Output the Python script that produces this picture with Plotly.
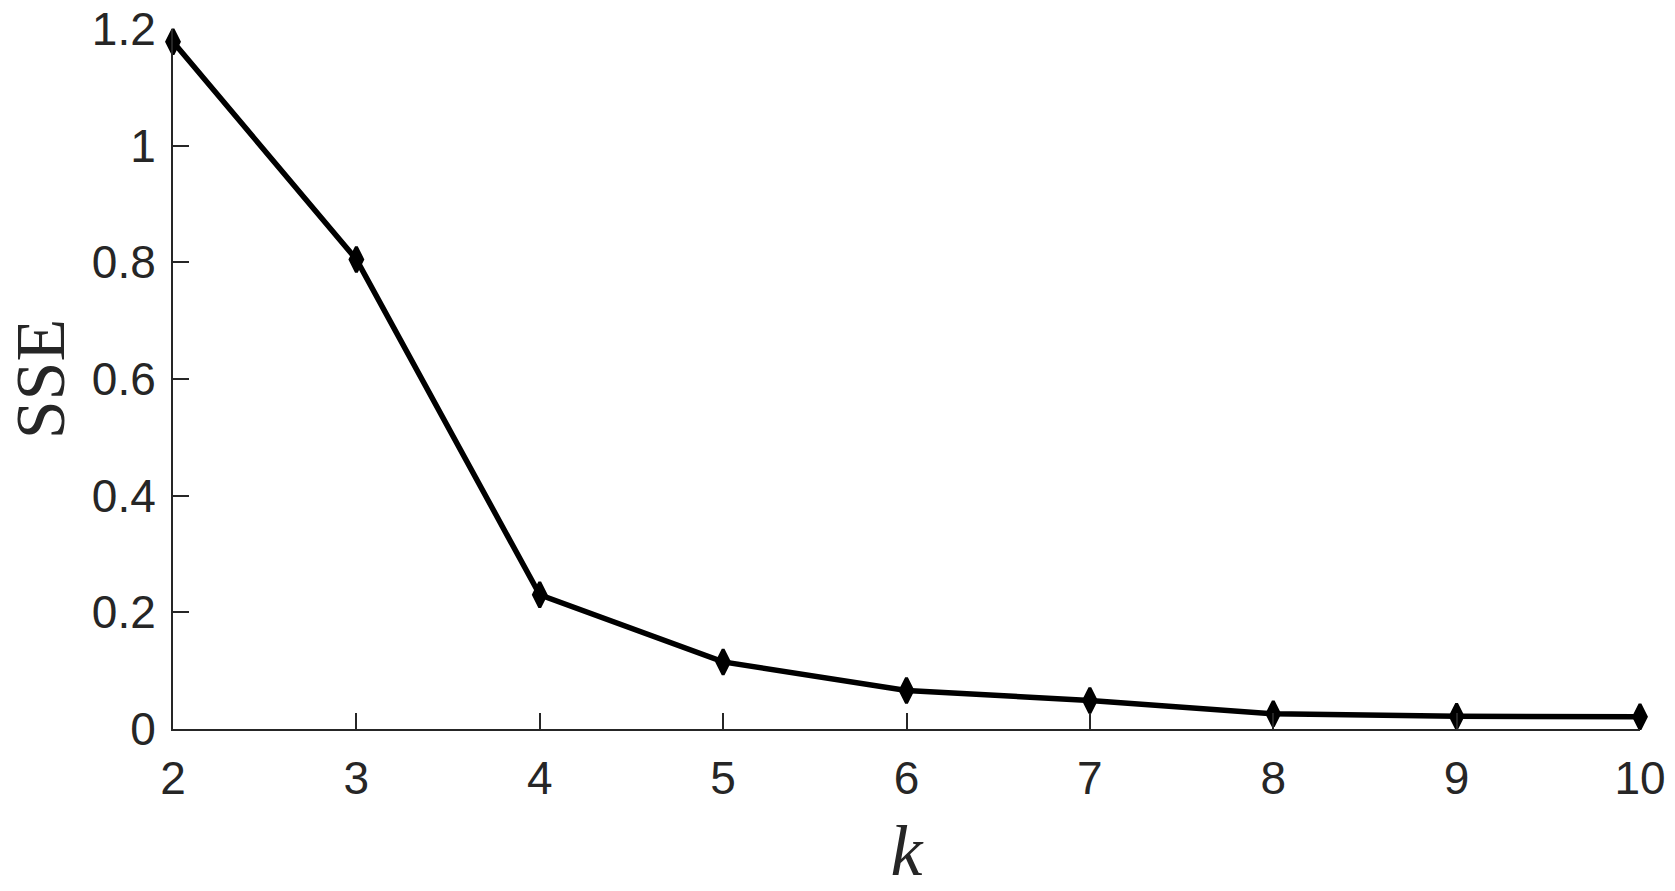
import plotly.graph_objects as go

k_values = [2, 3, 4, 5, 6, 7, 8, 9, 10]
sse_values = [1.178, 0.805, 0.23, 0.115, 0.066, 0.049, 0.026, 0.022, 0.021]
x_ticks = [2, 3, 4, 5, 6, 7, 8, 9, 10]
y_ticks = [0, 0.2, 0.4, 0.6, 0.8, 1, 1.2]
y_tick_labels = ["0", "0.2", "0.4", "0.6", "0.8", "1", "1.2"]

fig = go.Figure()
fig.add_trace(go.Scatter(
    x=k_values, y=sse_values, mode="lines+markers",
    line=dict(color="black", width=5.5),
    marker=dict(symbol="diamond-tall", size=18, color="black",
                line=dict(color="black", width=3)),
    cliponaxis=False, showlegend=False, hoverinfo="skip",
))

axis_common = dict(
    showgrid=False, zeroline=False, showline=True, linecolor="#262626", linewidth=2,
    ticks="inside", ticklen=16, tickwidth=2, tickcolor="#262626",
    tickfont=dict(family="Liberation Sans, Arial", size=46, color="#262626"),
    ticklabeloverflow="allow",
    automargin=False,
)

fig.update_xaxes(
    range=[2, 10], tickvals=x_ticks, ticklabelstandoff=8,
    title=dict(text="<i>k</i>", font=dict(family="Liberation Serif, Times New Roman", size=72, color="#262626"),
               standoff=25),
    **axis_common,
)
fig.update_yaxes(
    range=[0, 1.2], tickvals=y_ticks, ticktext=y_tick_labels, ticklabelstandoff=6,
    title=dict(text="SSE", font=dict(family="Liberation Serif, Times New Roman", size=70, color="#262626"),
               standoff=4),
    **axis_common,
)

fig.update_layout(
    width=1675, height=891,
    margin=dict(l=173, r=35, t=29, b=162),
    paper_bgcolor="white", plot_bgcolor="white",
)

fig.write_html("out.html", config={"displayModeBar": False},
               post_script="document.body.style.margin='0';")
